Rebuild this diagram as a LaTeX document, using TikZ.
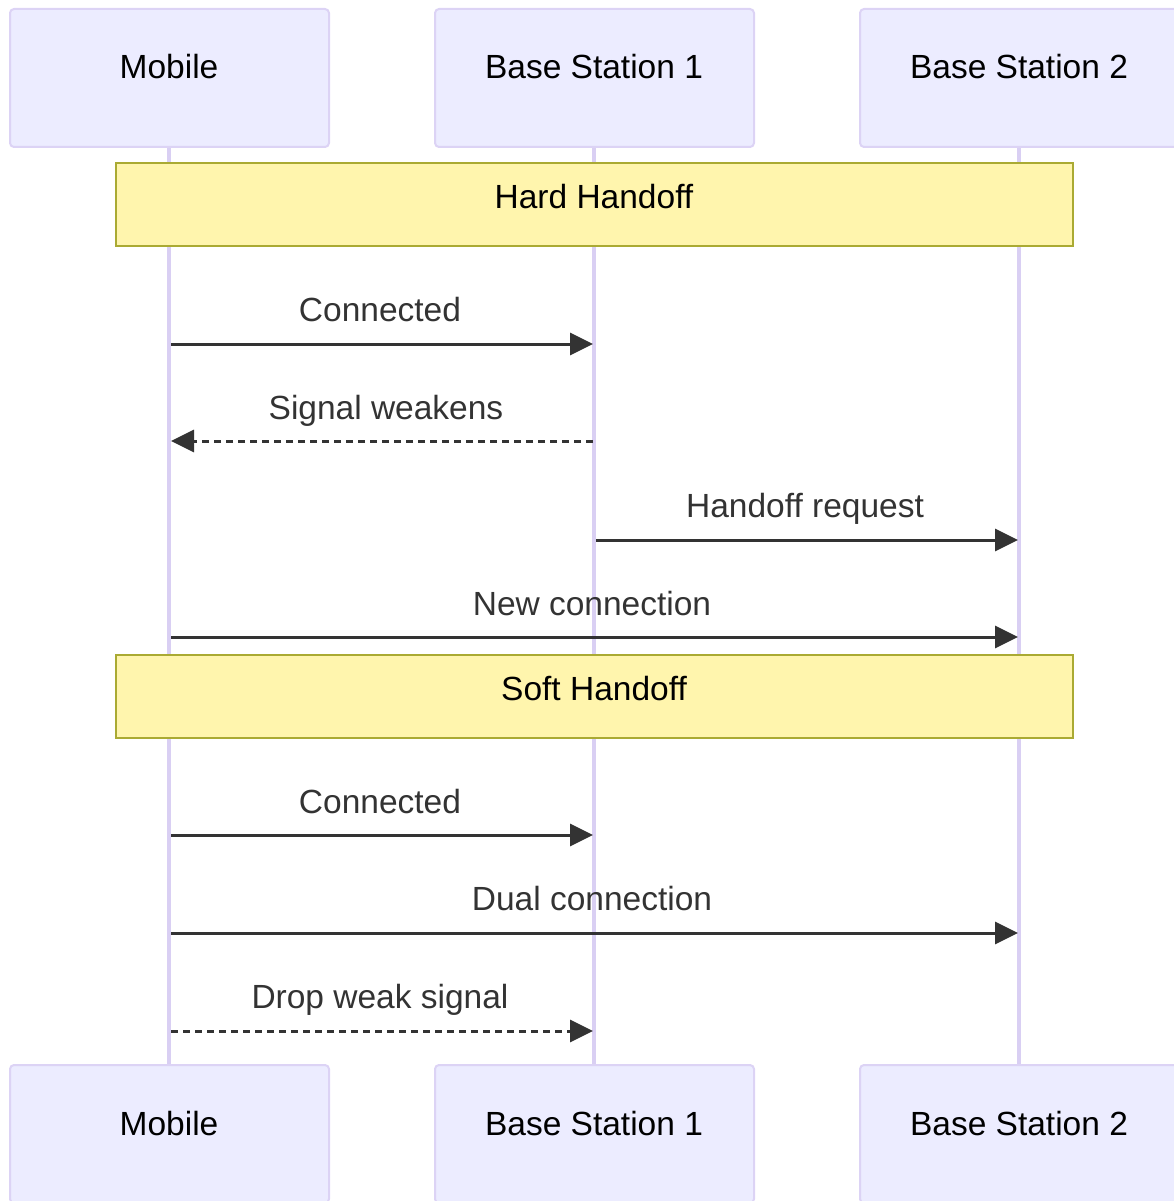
\documentclass[tikz,border=0pt]{standalone}
\usepackage{fontspec}
\setmainfont{Liberation Sans}
\usetikzlibrary{arrows.meta}
\definecolor{actorfill}{HTML}{ECECFF}
\definecolor{actorline}{HTML}{DCD3F5}
\definecolor{lifeline}{HTML}{D9CFF3}
\definecolor{notefill}{HTML}{FFF5AD}
\definecolor{noteline}{HTML}{AAAA33}
\definecolor{msg}{HTML}{333333}
\tikzset{
  actorbox/.style={draw=actorline, line width=2pt, fill=actorfill, rounded corners=4pt,
    minimum width=319pt, minimum height=138pt, inner sep=0pt},
  actortext/.style={font=\fontsize{33.5}{40}\selectfont, text=black, inner sep=0pt, anchor=base},
  notebox/.style={draw=noteline, line width=1.5pt, fill=notefill, minimum width=957pt,
    minimum height=83pt, inner sep=0pt},
  notetext/.style={font=\fontsize{33.5}{40}\selectfont, text=black, inner sep=0pt, anchor=base},
  lifelinestyle/.style={draw=lifeline, line width=3.5pt},
  msgline/.style={draw=msg, line width=3pt, -{Triangle[length=23pt,width=22pt]}},
  msgdash/.style={msgline, dash pattern=on 7pt off 5pt},
  msglabel/.style={font=\fontsize{33.5}{40}\selectfont, text=msg, inner sep=0pt, anchor=base}
}
\begin{document}
\begin{tikzpicture}[x=1pt,y=-1pt]
\useasboundingbox (0,0) rectangle (1174,1201);
\clip (0,0) rectangle (1174,1201);

% lifelines
\foreach \name/\x in {m/169, a/594, b/1019} {
  \coordinate (\name top) at (\x,147);
  \coordinate (\name bot) at (\x,1065);
  \draw[lifelinestyle] (\name top) -- (\name bot);
}

% actors, top and bottom
\node[actorbox] (mT) at (169.5,78) {};
\node[actorbox] (aT) at (594.5,78) {};
\node[actorbox] (bT) at (1019.5,78) {};
\node[actorbox] (mB) at (169.5,1134) {};
\node[actorbox] (aB) at (594.5,1134) {};
\node[actorbox] (bB) at (1019.5,1134) {};
\node[actortext] (mTt) at (169,78.5) {Mobile};
\node[actortext] (aTt) at (594,78.5) {Base Station 1};
\node[actortext] (bTt) at (1019,78.5) {Base Station 2};
\node[actortext] (mBt) at (169,1135) {Mobile};
\node[actortext] (aBt) at (594,1135) {Base Station 1};
\node[actortext] (bBt) at (1019,1135) {Base Station 2};

% notes
\node[notebox] (hard) at (594.5,204.5) {};
\node[notetext] (hardt) at (594,208) {Hard Handoff};
\node[notebox] (soft) at (594.5,696.5) {};
\node[notetext] (softt) at (594,700) {Soft Handoff};

% message end points on the lifelines
\foreach \y/\k in {344/1, 441/2, 540/3, 637/4, 835/5, 933/6, 1031/7} {
  \coordinate (m\k) at (171,\y);
  \coordinate (a\k) at (593,\y);
  \coordinate (as\k) at (596,\y);
  \coordinate (b\k) at (1018,\y);
}

% messages
\draw[msgline] (m1) -- (a1);
\node[msglabel] (l1) at (380,321) {Connected};
\draw[msgdash] (a2) -- (m2);
\node[msglabel] (l2) at (386,419) {Signal weakens};
\draw[msgline] (as3) -- (b3);
\node[msglabel] (l3) at (805,517) {Handoff request};
\draw[msgline] (m4) -- (b4);
\node[msglabel] (l4) at (592,615) {New connection};
\draw[msgline] (m5) -- (a5);
\node[msglabel] (l5) at (380,813) {Connected};
\draw[msgline] (m6) -- (b6);
\node[msglabel] (l6) at (592,910) {Dual connection};
\draw[msgdash] (m7) -- (a7);
\node[msglabel] (l7) at (380,1008) {Drop weak signal};
\end{tikzpicture}
\end{document}
